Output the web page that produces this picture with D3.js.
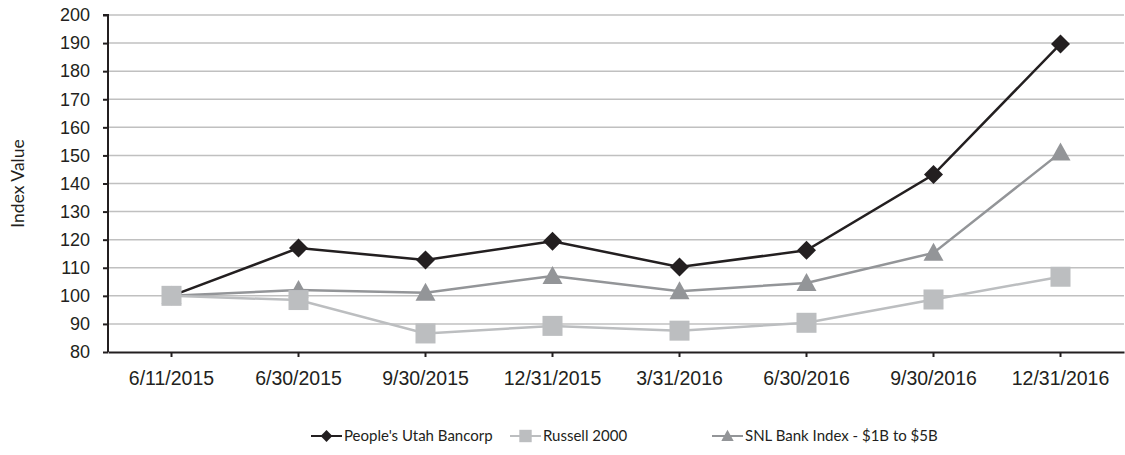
<!DOCTYPE html>
<html>
<head>
<meta charset="utf-8">
<script src="https://cdn.jsdelivr.net/npm/d3@7"></script>
<style>
  body { margin: 0; background: #fff; }
  svg { display: block; font-family: Lato, "Open Sans", sans-serif; }
  .grid line { stroke: #c0c0c0; stroke-width: 1.5; }
  .axis path, .axis line { stroke: #231f20; stroke-width: 2; }
  .axis text { font-size: 18px; fill: #231f20; }
  .x-axis text { font-size: 19.5px; }
</style>
</head>
<body>
<svg id="chart"></svg>
<script>
// dữ liệu
const categories = ['6/11/2015', '6/30/2015', '9/30/2015', '12/31/2015', '3/31/2016', '6/30/2016', '9/30/2016', '12/31/2016'];
const peoples = [100, 117.0, 112.8, 119.4, 110.3, 116.2, 143.2, 189.7];
const russell = [100, 98.5, 86.6, 89.3, 87.6, 90.4, 98.7, 106.8];
const snl = [100, 102.1, 101.1, 107.1, 101.6, 104.6, 115.3, 151.0];
const yTicks = d3.range(80, 201, 10);

const seriesNames = ["People's Utah Bancorp", 'Russell 2000', 'SNL Bank Index - $1B to $5B'];

const W = 1125, H = 455;
const margin = { left: 108, right: 1, top: 15, bottom: 103 };

const svg = d3.select('#chart').attr('width', W).attr('height', H);

const x = d3.scaleBand().domain(categories).range([margin.left, W - margin.right]);
const y = d3.scaleLinear().domain([80, 200]).range([H - margin.bottom, margin.top]);

// lưới
svg.append('g').attr('class', 'grid')
  .selectAll('line').data(yTicks.filter(d => d > 80)).enter()
  .append('line')
  .attr('x1', margin.left).attr('x2', W - margin.right)
  .attr('y1', d => y(d)).attr('y2', d => y(d));

// trục
svg.append('g').attr('class', 'axis')
  .attr('transform', `translate(${margin.left},0)`)
  .call(d3.axisLeft(y).tickValues(yTicks).tickSize(5).tickPadding(13))
  .call(g => g.select('.domain').attr('d', `M-5,${y(200)}H0V${y(80)}`));

svg.append('g').attr('class', 'axis x-axis')
  .attr('transform', `translate(0,${y(80)})`)
  .call(d3.axisBottom(x).tickSize(5).tickSizeOuter(0).tickPadding(14))
  .call(g => g.selectAll('.tick text').attr('dy', '0.7em'));

svg.append('text')
  .attr('transform', `translate(24,${(y(80) + y(200)) / 2}) rotate(-90)`)
  .attr('text-anchor', 'middle')
  .style('font-size', '17.5px').style('fill', '#231f20')
  .text('Index Value');

const cx = d => x(d) + x.bandwidth() / 2;

const series = [
  { name: seriesNames[0], values: peoples, color: '#231f20', shape: 'diamond', width: 2.5 },
  { name: seriesNames[1], values: russell, color: '#bcbec0', shape: 'square', width: 2.5 },
  { name: seriesNames[2], values: snl, color: '#939598', shape: 'triangle', width: 2.5 }
];

function marker(g, shape, color) {
  if (shape === 'diamond') {
    g.append('path').attr('d', 'M0,-9.5L9.5,0L0,9.5L-9.5,0Z').attr('fill', color);
  } else if (shape === 'square') {
    g.append('rect').attr('x', -10).attr('y', -10).attr('width', 20).attr('height', 20).attr('fill', color);
  } else {
    g.append('path').attr('d', 'M0,-10L10,8L-10,8Z').attr('fill', color);
  }
}

const line = d3.line().x((d, i) => cx(categories[i])).y(d => y(d));

// vẽ theo thứ tự: SNL, Russell, People's ở trên cùng
[series[2], series[1], series[0]].forEach(s => {
  svg.append('path')
    .attr('d', line(s.values))
    .attr('fill', 'none')
    .attr('stroke', s.color)
    .attr('stroke-width', s.width);
});
[series[0], series[2], series[1]].forEach(s => {
  s.values.forEach((v, i) => {
    const g = svg.append('g').attr('transform', `translate(${cx(categories[i])},${y(v)})`);
    marker(g, s.shape, s.color);
  });
});

// chú giải
const legendX = [311, 510, 712];
series.forEach((s, i) => {
  const g = svg.append('g').attr('transform', `translate(${legendX[i]},436)`);
  g.append('line').attr('x1', 0).attr('x2', 31).attr('stroke', s.color).attr('stroke-width', 2);
  const m = g.append('g').attr('transform', 'translate(15.5,0) scale(0.62)');
  marker(m, s.shape, s.color);
  g.append('text').attr('x', 33).attr('dy', '0.35em')
    .style('font-size', '15px').style('fill', '#231f20')
    .text(s.name);
});
</script>
</body>
</html>
